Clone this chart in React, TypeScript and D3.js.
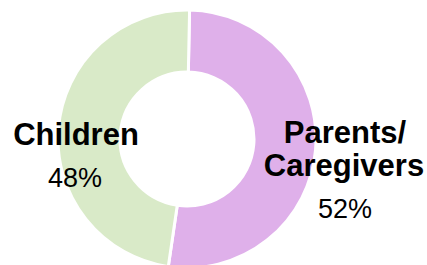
import { useEffect, useRef } from "react";
import * as d3 from "d3";

const categories = ["Parents/ Caregivers", "Children"];
const shares = [52, 48];
const sliceColors = ["#dfb0ea", "#d9eac8"];

export default function App() {
  const svgRef = useRef<SVGSVGElement | null>(null);

  useEffect(() => {
    if (!svgRef.current) return;
    const svg = d3.select(svgRef.current);
    svg.selectAll("*").remove();

    const width = 427;
    const height = 265;
    const cx = 187;
    const cy = 139;
    const outer = 129;
    const inner = 67;

    const rows = categories.map((name, i) => ({ name, value: shares[i], color: sliceColors[i] }));

    const pie = d3
      .pie<typeof rows[number]>()
      .sort(null)
      .value((d) => d.value)
      .startAngle(0.02)
      .endAngle(0.02 + Math.PI * 2);

    const arc = d3
      .arc<d3.PieArcDatum<typeof rows[number]>>()
      .innerRadius(inner)
      .outerRadius(outer);

    svg.attr("width", width).attr("height", height).attr("viewBox", `0 0 ${width} ${height}`);

    const g = svg.append("g").attr("transform", `translate(${cx},${cy})`);

    g.selectAll("path.slice")
      .data(pie(rows))
      .join("path")
      .attr("class", "slice")
      .attr("d", arc)
      .attr("fill", (d) => d.data.color)
      .attr("stroke", "#ffffff")
      .attr("stroke-width", 3)
      .attr("stroke-linejoin", "miter");

    const labels = svg
      .append("g")
      .attr("font-family", "'Liberation Sans', Arial, sans-serif")
      .attr("text-anchor", "middle")
      .attr("fill", "#000");

    // Children label (left)
    labels
      .append("text")
      .attr("x", 76)
      .attr("y", 145)
      .attr("font-size", 31)
      .attr("font-weight", "bold")
      .text("Children");
    labels
      .append("text")
      .attr("x", 75)
      .attr("y", 187)
      .attr("font-size", 27)
      .text(`${shares[1]}%`);

    // Parents label (right)
    const [line1, line2] = categories[0].split(" ");
    labels
      .append("text")
      .attr("x", 345)
      .attr("y", 143)
      .attr("font-size", 31)
      .attr("font-weight", "bold")
      .text(line1);
    labels
      .append("text")
      .attr("x", 344)
      .attr("y", 176)
      .attr("font-size", 31)
      .attr("font-weight", "bold")
      .text(line2);
    labels
      .append("text")
      .attr("x", 345)
      .attr("y", 218)
      .attr("font-size", 27)
      .text(`${shares[0]}%`);
  }, []);

  return (
    <svg
      ref={svgRef}
      style={{ position: "absolute", left: 0, top: 0, background: "#fff" }}
    />
  );
}
